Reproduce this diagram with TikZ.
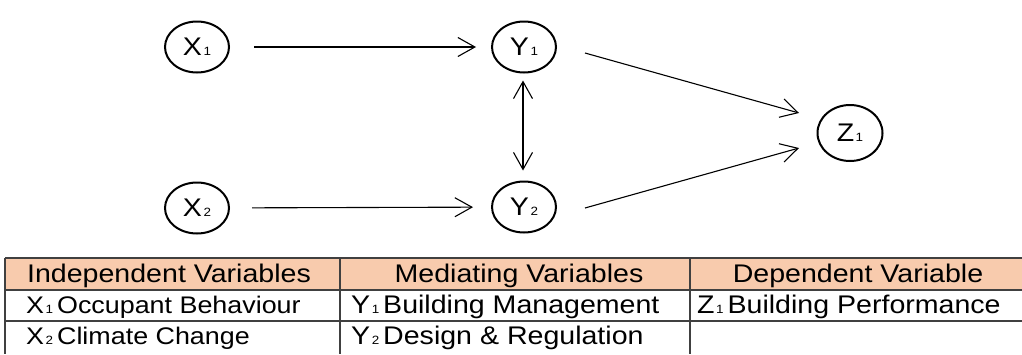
\documentclass[tikz,border=0pt]{standalone}
\usepackage{fontspec}
\setmainfont{Liberation Sans}[FakeStretch=1.12]
\usetikzlibrary{arrows.meta,shapes.geometric}
\definecolor{hdrfill}{HTML}{F8CBAD}
\definecolor{gridline}{HTML}{404040}
% small index digit set on the baseline
\newcommand{\ix}[1]{\kern1.5pt{\fontsize{12}{12}\selectfont #1}}
\begin{document}
\begin{tikzpicture}[x=1pt,y=-1pt,
  var/.style={ellipse, draw, line width=2pt, minimum width=64pt,
    minimum height=51pt, inner sep=0pt, font=\fontsize{25.5}{26}\selectfont},
  link/.style={line width=1.1pt,
    -{Straight Barb[length=17pt,width=19pt,line width=1.1pt]}},
  twoway/.style={line width=1.1pt,
    {Straight Barb[length=17pt,width=19pt,line width=1.1pt]}-{Straight Barb[length=17pt,width=19pt,line width=1.1pt]}},
  cell/.style={inner sep=0pt, font=\fontsize{25.5}{26}\selectfont},
  narrowcell/.style={inner sep=0pt, font=\fontsize{24}{26}\selectfont},
  rule/.style={draw=gridline, line width=1.3pt}
]
\useasboundingbox (0,0) rectangle (1022,354);

% variables
\node[var] (X1) at (197,47)  {X\ix{1}};
\node[var] (Y1) at (524,47)  {Y\ix{1}};
\node[var] (X2) at (197,208) {X\ix{2}};
\node[var] (Y2) at (524,207) {Y\ix{2}};
\node[var, minimum width=65pt, minimum height=56pt] (Z1) at (850,133) {Z\ix{1}};

% relations
\draw[link, shorten <=24pt, shorten >=15pt] (X1) -- (Y1);
\draw[link, shorten <=22pt, shorten >=18pt] (X2) -- (Y2);
\draw[twoway, shorten <=7pt, shorten >=10pt] ([xshift=-1pt]Y1.south) -- ([xshift=-1pt]Y2.north);
\draw[link] ([shift={(61,6)}]Y1.center) -- ([shift={(-51,-20)}]Z1.center);
\draw[link] ([shift={(61,1)}]Y2.center) -- ([shift={(-51,15)}]Z1.center);

% legend table
\fill[hdrfill] (5,258) rectangle (1022,290);
\draw[rule] (5,258) -- (1022,258);
\draw[rule] (5,290) -- (1022,290);
\draw[rule] (5,321) -- (1022,321);
\draw[rule] (5,258) -- (5,354);
\draw[rule] (340,258) -- (340,354);
\draw[rule] (690,258) -- (690,354);

\node[cell, anchor=base] (h1) at (169,282) {Independent Variables};
\node[cell, anchor=base] (h2) at (519,282) {Mediating Variables};
\node[cell, anchor=base] (h3) at (858,282) {Dependent Variable};

\node[narrowcell, anchor=base west] (a1) at (26,313) {X\ix{1}\kern4pt Occupant Behaviour};
\node[narrowcell, anchor=base west] (a2) at (26,344) {X\ix{2}\kern4pt Climate Change};
\node[cell, anchor=base west] (b1) at (351,313) {Y\ix{1}\kern4pt Building Management};
\node[cell, anchor=base west] (b2) at (351,344) {Y\ix{2}\kern4pt Design \& Regulation};
\node[cell, anchor=base west] (c1) at (697,313) {Z\ix{1}\kern4pt Building Performance};
\end{tikzpicture}
\end{document}
